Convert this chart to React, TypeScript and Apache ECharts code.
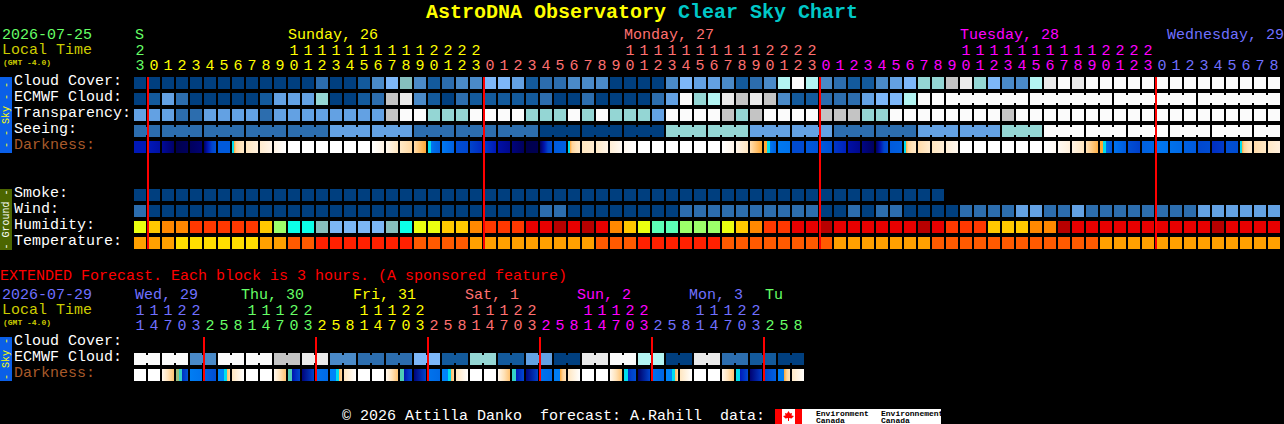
import React, { useEffect, useRef } from "react";
import * as echarts from "echarts";

const MONO = '"Liberation Mono", "DejaVu Sans Mono", monospace';

const hourOnes = "3012345678901234567890123012345678901234567890123012345678901234567890123012345678".split("");
const hourTens = "2          11111111112222          11111111112222          11111111112222         ".split("");
const extOnes = "147032581470325814703258147032581470325814703258".split("");
const extTens = "11122   11122   11122   11122   11122   11122   ".split("");

const SAT = "#66FF66", SUN = "#FFFF00", MON = "#FF7070", TUE = "#FF00FF", WED = "#7070FF";
const mainDays = [{ until: 1, color: SAT }, { until: 25, color: SUN }, { until: 49, color: MON }, { until: 73, color: TUE }, { until: 82, color: WED }];
const extDays = [{ until: 5, color: WED }, { until: 13, color: SAT }, { until: 21, color: SUN }, { until: 29, color: MON }, { until: 37, color: TUE }, { until: 45, color: WED }, { until: 48, color: SAT }];

const mainDayLabels = [
  { text: "S", x: 135, color: SAT }, { text: "Sunday, 26", x: 288, color: SUN }, { text: "Monday, 27", x: 624, color: MON },
  { text: "Tuesday, 28", x: 960, color: TUE }, { text: "Wednesday, 29", x: 1167, color: WED },
];
const extDayLabels = [
  { text: "Wed, 29", x: 135, color: WED }, { text: "Thu, 30", x: 241, color: SAT }, { text: "Fri, 31", x: 353, color: SUN },
  { text: "Sat, 1", x: 465, color: MON }, { text: "Sun, 2", x: 577, color: TUE }, { text: "Mon, 3", x: 689, color: WED }, { text: "Tu", x: 765, color: SAT },
];

const mainRows = ["Cloud Cover:", "ECMWF Cloud:", "Transparency:", "Seeing:", "Darkness:", "", " ", "Smoke:", "Wind:", "Humidity:", "Temperature:"];
const extRows = ["Cloud Cover:", "ECMWF Cloud:", "Darkness:"];
const midnightsMain = [1, 25, 49, 73];
const midnightsExt = [5, 13, 21, 29, 37, 45];

const cloudPalette = ["#003F7F", "#135A9C", "#2C6DAE", "#4A8AC8", "#63A1E3", "#7DB7F9", "#85BFBE", "#94D6D4", "#B3F4F2", "#C4C4C4", "#EAEAEA", "#FBFBFB"];
const humidityPalette = ["#7CB7F5", "#86BFBE", "#0CFFE8", "#5CFFB8", "#9CFF6A", "#EAFF10", "#FFC800", "#FF8800", "#FF3800", "#E80000", "#B80000"];
const temperaturePalette = ["#FFDE00", "#FFA000", "#FF5A00", "#FF2000"];
const darknessScale: [number, string][] = [
  [-4, "#FFFFFF"], [-3.5, "#FFF3E4"], [-3, "#FFE6C0"], [-2.5, "#FFD49A"], [-2, "#FFA834"], [-1, "#00DDEE"], [0, "#00B0FF"], [1, "#0090FF"],
  [2, "#0078F0"], [3, "#0060E0"], [4, "#0044CC"], [5, "#0018B8"], [5.5, "#000A98"], [6, "#000068"], [6.5, "#00004C"],
];

const cloudCover = [0,0,0,0,0,0,0,0,0,0,0,0,0,2,0,0,1,3,5,6,3,1,2,3,3,5,5,4,1,2,2,3,3,3,0,0,0,0,3,5,4,4,3,1,2,3,8,11,8,3,2,1,1,3,4,5,7,7,9,10,7,5,3,3,8,10,11,10,11,11,11,11,11,11,11,11,11,11,11,11,11,11];
const ecmwfCloud = [0,1,4,2,0,0,0,0,0,1,4,4,4,7,0,0,1,2,9,10,3,1,0,2,1,1,1,1,1,2,0,0,2,0,0,0,0,2,4,11,7,8,10,9,10,9,3,1,1,2,2,2,4,5,5,8,11,11,11,11,11,11,11,11,11,11,11,11,11,11,11,11,11,11,11,11,11,11,11,11,11,11];
const transparency = [4,4,4,2,2,4,4,4,4,2,4,4,4,4,4,4,4,4,9,11,11,7,7,7,11,11,11,11,7,7,7,11,7,11,7,7,7,4,11,11,11,11,9,7,9,11,11,11,11,9,9,9,7,7,11,11,11,11,11,11,11,11,9,11,11,11,11,11,11,11,11,11,11,11,11,11,11,11,11,11,11,11];
const seeing = [2,2,2,2,2,2,2,2,2,2,2,2,2,2,4,4,4,4,4,4,2,2,2,2,2,2,2,2,2,0,0,0,0,0,0,0,0,0,7,7,7,7,7,7,4,4,4,4,4,4,2,2,2,2,2,2,4,4,4,4,4,4,7,7,7,11,11,11,11,11,11,11,11,11,11,11,11,11,11,11,11,11];
const smoke = [0,0,0,0,0,0,0,0,0,0,0,0,0,0,0,0,0,0,0,0,0,0,0,0,0,0,0,0,0,0,0,0,0,0,0,0,0,0,0,0,0,0,0,0,0,0,0,0,0,0,0,0,0,0,0,0,0,0];
const wind = [2,0,0,0,0,0,0,0,0,0,0,0,0,0,0,0,0,0,0,0,0,0,0,0,0,0,0,0,0,2,2,0,0,0,0,0,0,0,0,2,2,2,2,2,2,2,2,2,2,0,0,2,0,2,2,0,0,0,0,2,2,2,2,4,4,2,2,4,2,2,2,2,2,2,2,2,4,4,4,4,4,4];
const humidity = [5,6,7,7,8,8,8,8,8,6,4,2,2,1,0,0,0,0,1,2,5,5,6,6,7,8,8,8,9,9,10,9,10,9,7,6,5,3,3,4,4,4,5,6,7,8,8,9,9,10,9,9,9,9,9,9,10,9,8,8,8,6,6,6,7,7,10,9,9,9,9,9,9,9,9,9,9,10,9,9,9,9];
const temperature = [1,1,1,0,0,0,0,0,0,1,1,2,2,3,3,3,3,3,3,3,2,2,2,2,1,1,1,1,1,1,1,1,1,2,2,2,3,3,3,3,3,3,2,2,2,2,2,2,2,2,1,1,1,1,1,1,1,2,2,2,2,2,2,2,2,2,2,2,2,1,1,1,1,1,1,1,1,1,1,1,1,1];
const extEcmwf = [11,11,11,11,3,3,11,11,11,11,9,9,10,10,3,3,2,2,2,2,5,5,1,1,7,7,1,1,4,4,0,0,10,10,11,11,8,8,0,0,10,10,2,2,1,1,0,0];

type Sky = (number | null)[];
const W: Sky = [-4, -4];
const dawnA: Sky = [-1, null, -2, -2.5, -2.7, -2.9, -3, -3.1];
const darkness: Sky[] = [
  [5,5],[5,5.3],[5.5,6],[6.5,6.2],[6.2,5.9],[6,5,4,3.5],[3.2,3.2],dawnA,[-3,-3.4],[-3.2,-3.6],[-3.5,-4],W,W,W,W,W,W,[-4,-3.5],[-3.7,-3],[-3.1,-2.6],[-2.7,-2],
  [-1,null,2,2.5,2.8,3],[2,3],[3.7,3.9],[4,4.6],[4.2,5],[5.3,5.6],[5.8,6.2],[6.5,6.4],[6.2,5.2,4,3.6],[3.2,3],dawnA,[-3,-3.2],[-3.1,-3.6],[-3.3,-3.8],[-3.7,-4],W,W,W,W,W,W,
  [-4,-3.6],[-3.6,-3],[-2.8,-2],[-2,null,-1,null,2,2.5,3],[2,2.2],[3.8,3.8],[3.3,3.5],[3.2,3.6],[4.3,4.8],[5.3,5.6],[5.7,6.2],[6.2,5.2,4,3.6],[3.2,3],dawnA,[-2.7,-3.2],[-3,-3.3],[-3.3,-3.7],
  W,W,W,W,W,W,[-4,-3.8],[-3.8,-3.4],[-3.5,-3],[-2.9,-2.1],[-2,null,-1,null,2.5,3,3.2],[2.2,3.2],[3.6,4.1],[3,2.8],[2,2.2],[2.3,2.6],[3,3.2],[3.9,3.7],[4.5,4.2],[3.6,3.7],dawnA,[-2.7,-3.1],[-3.1,-3.4],
];
const dawnB: Sky = [1.5, 1.5, null, -1, null, -2.2, -2.6];
const dawnC: Sky = [1.8, 1.8, null, -2, -2.5, -2.9];
const dusk: Sky = [-3.7, -2.9, -2.3];
const extDarkness: Sky[] = [
  W,W,dusk,[-1.6,null,-1.2,null,4.5,4,3.4],[1.8,2.2],[3,3.6],dawnB,[-3,-4],
  W,W,dusk,[-1.3,null,5.2,4.4,3.8],[5.8,4],[2.2,2.6],dawnB,[-3,-4],
  W,W,dusk,[-1.3,null,5.2,4.4,3.8],[5.8,4],[2.2,2.6],dawnB,[-3,-4],
  W,W,dusk,[-1.2,null,5,4.4,3.8],[5.8,4],[2.2,2.6],dawnC,[-3,-4],
  W,W,dusk,[-1,null,4.5,4,3.6],[6,4],[2.2,2.8],dawnB,[-3,-4],
  W,W,dusk,[-1,null,5,4.4,3.8],[5.9,4.2],[4,3],dawnC,[-3.1,-3.9],
];

const hex = (c: string) => [1, 3, 5].map((p) => parseInt(c.slice(p, p + 2), 16));
function skyColor(v: number) {
  const s = darknessScale;
  if (v <= s[0][0]) return s[0][1];
  for (let k = 1; k < s.length; k++) {
    if (v <= s[k][0]) {
      const t = (v - s[k - 1][0]) / (s[k][0] - s[k - 1][0]);
      const a = hex(s[k - 1][1]), b = hex(s[k][1]);
      return `rgb(${a.map((x, j) => Math.round(x + (b[j] - x) * t)).join(",")})`;
    }
  }
  return s[s.length - 1][1];
}
function skyFill(cell: Sky) {
  const vals = cell.filter((v) => v !== null) as number[];
  const stops: { offset: number; color: string }[] = [];
  let k = 0;
  cell.forEach((v, idx) => {
    if (v === null) return;
    const off = k / (vals.length - 1);
    stops.push({ offset: off, color: skyColor(v) });
    if (cell[idx + 1] === null) stops.push({ offset: (k + 1) / (vals.length - 1), color: skyColor(v) });
    k++;
  });
  return new echarts.graphic.LinearGradient(0, 0, 1, 0, stops);
}

function cellSeries(name: string, n: number, row: number, xAxisIndex: number, yAxisIndex: number, fill: (i: number) => any, joined: (i: number) => boolean) {
  return {
    type: "custom", name, coordinateSystem: "cartesian2d", xAxisIndex, yAxisIndex, silent: true, clip: false,
    data: Array.from({ length: n }, (_, i) => [i, row]),
    encode: { x: 0, y: 1 },
    renderItem: (_: any, api: any) => {
      const i = api.value(0);
      const [cx, cy] = api.coord([i, row]);
      const [bw, bh] = api.size([1, 1]);
      const w = bw - 2, h = bh - 4;
      const children: any[] = [{ type: "rect", shape: { x: cx - w / 2, y: cy - h / 2, width: w, height: h }, style: { fill: fill(i) } }];
      if (joined(i) && i < n - 1) {
        children.push({ type: "rect", shape: { x: cx + w / 2, y: cy - h / 2 + 2, width: 2, height: h - 4 }, style: { fill: fill(i) } });
      }
      return { type: "group", children };
    },
  };
}
const lineSeries = (data: number[], xAxisIndex: number, yAxisIndex: number, lastRow: number) => ({
  type: "custom", name: "midnight", coordinateSystem: "cartesian2d", xAxisIndex, yAxisIndex, silent: true, clip: false, z: 5,
  data: data.map((d) => [d, 0]), encode: { x: 0, y: 1 },
  renderItem: (_: any, api: any) => {
    const [cx, top] = api.coord([api.value(0), 0]);
    const [, bottom] = api.coord([api.value(0), lastRow]);
    const [bw] = api.size([1, 1]);
    return { type: "rect", shape: { x: cx - bw / 2, y: top - 6, width: 2, height: bottom - top + 12 }, style: { fill: "#FF0000" } };
  },
});

const pick = (p: string[], v: number[]) => (i: number) => p[v[i]];
const never = () => false;

const dayColor = (days: { until: number; color: string }[], i: number) => days.find((d) => i < d.until)!.color;
const topAxis = (grid: number, labels: string[], days: any[], offset: number) => ({
  gridIndex: grid, type: "category", position: "top", offset,
  data: labels.map((value, i) => ({ value, textStyle: { color: dayColor(days, i) } })),
  axisLine: { show: false }, axisTick: { show: false }, splitLine: { show: false },
  axisLabel: { interval: 0, margin: 1, fontFamily: MONO, fontSize: 15 },
});
const rowLabelStyle = { fontFamily: MONO, fontSize: 15, padding: [0, 0, 4, 0] };
const leftAxis = (grid: number, rows: string[]) => ({
  gridIndex: grid, type: "category", inverse: true,
  data: rows.map((value) => ({ value, textStyle: { align: "left" } })),
  axisLine: { show: false }, axisTick: { show: false }, splitLine: { show: false },
  axisLabel: {
    interval: 0, margin: 119, fontFamily: MONO, fontSize: 15,
    formatter: (value: string) => (value.trim() ? `{${value === "Darkness:" ? "dim" : "plain"}|${value}}` : ""),
    rich: { plain: { ...rowLabelStyle, color: "#FFFFFF" }, dim: { ...rowLabelStyle, color: "#A85A2A" } },
  },
});

const t = (text: string, x: number, y: number, fill: string, font = `15px ${MONO}`, extra: any = {}) => ({
  type: "text", x, y, silent: true, ...extra, style: { text, fill, font, align: extra.rotation ? "center" : "left", verticalAlign: "middle" },
});
const sideBar = (y: number, h: number, fill: string, text: string, color: string) => [
  { type: "rect", shape: { x: 0, y, width: 12, height: h }, style: { fill }, silent: true },
  t(text, 6, y + h / 2, color, `10px ${MONO}`, { rotation: Math.PI / 2 }),
];

export default function App() {
  const ref = useRef<HTMLDivElement>(null);
  useEffect(() => {
    document.body.style.margin = "0";
    const chart = echarts.init(ref.current!, undefined, { renderer: "svg" });
    const graphics: any[] = [
      t("2026-07-25", 2, 35, SAT), t("Local Time", 2, 50, "#CCCC00"), t("(GMT -4.0)", 3, 62, "#CCCC00", `bold 8px ${MONO}`),
      t("EXTENDED Forecast. Each block is 3 hours. (A sponsored feature)", 0, 276, "#FF0000"),
      t("2026-07-29", 2, 295, WED), t("Local Time", 2, 310, "#CCCC00"), t("(GMT -4.0)", 3, 322, "#CCCC00", `bold 8px ${MONO}`),
      ...mainDayLabels.map((d) => t(d.text, d.x, 35, d.color)),
      ...extDayLabels.map((d) => t(d.text, d.x, 295, d.color)),
      ...sideBar(77, 76, "#0A5FE8", "- - Sky - -", "#FFFF00"),
      ...sideBar(189, 61, "#4C6600", "- Ground -", "#FFFFFF"),
      ...sideBar(337, 44, "#0A5FE8", "- Sky -", "#FFFF00"),
      t("\u00A9 2026 Attilla Danko  forecast: A.Rahill  data:", 342, 416, "#FFFFFF"),
      { type: "rect", shape: { x: 775, y: 409, width: 166, height: 15 }, style: { fill: "#FFFFFF" }, silent: true },
      { type: "rect", shape: { x: 775, y: 409, width: 7, height: 15 }, style: { fill: "#FF0000" }, silent: true },
      { type: "rect", shape: { x: 795, y: 409, width: 7, height: 15 }, style: { fill: "#FF0000" }, silent: true },
      { type: "polygon", silent: true, style: { fill: "#FF0000" }, shape: { points: [[788.5,411],[790,413.5],[792,413],[791.5,415.5],[794,416],[791.5,418.5],[789,418],[789,421],[788,421],[788,418],[785.5,418.5],[783,416],[785.5,415.5],[785,413],[787,413.5]] } },
      t("Environment", 816, 413, "#000000", `bold 8px ${MONO}`), t("Canada", 816, 420, "#000000", `bold 8px ${MONO}`),
      t("Environnement", 881, 413, "#000000", `bold 8px ${MONO}`), t("Canada", 881, 420, "#000000", `bold 8px ${MONO}`),
    ];
    chart.setOption({
      animation: false,
      backgroundColor: "#000000",
      title: {
        left: 426, top: 2, padding: 0,
        text: "{a|AstroDNA Observatory }{b|Clear Sky Chart}",
        textStyle: { rich: {
          a: { color: "#FFFF00", fontFamily: MONO, fontWeight: "bold", fontSize: 20 },
          b: { color: "#00C8C8", fontFamily: MONO, fontWeight: "bold", fontSize: 20 },
        } },
      },
      grid: [
        { left: 133, top: 75, width: 1148, height: 176, outerBoundsMode: "none" },
        { left: 133, top: 335, width: 672, height: 48, outerBoundsMode: "none" },
      ],
      xAxis: [
        topAxis(0, hourOnes, mainDays, 0),
        topAxis(0, hourTens, mainDays, 15),
        topAxis(1, extOnes, extDays, 0),
        topAxis(1, extTens, extDays, 15),
      ],
      yAxis: [leftAxis(0, mainRows), leftAxis(1, extRows)],
      series: [
        cellSeries("Cloud Cover", cloudCover.length, 0, 0, 0, pick(cloudPalette, cloudCover), never),
        cellSeries("ECMWF Cloud", ecmwfCloud.length, 1, 0, 0, pick(cloudPalette, ecmwfCloud), (i) => i >= 58 && (i - 57) % 6 !== 0),
        cellSeries("Transparency", transparency.length, 2, 0, 0, pick(cloudPalette, transparency), never),
        cellSeries("Seeing", seeing.length, 3, 0, 0, pick(cloudPalette, seeing), (i) => (i + 2) % 3 !== 0),
        cellSeries("Darkness", darkness.length, 4, 0, 0, (i) => skyFill(darkness[i]), never),
        cellSeries("Smoke", smoke.length, 7, 0, 0, pick(cloudPalette, smoke), never),
        cellSeries("Wind", wind.length, 8, 0, 0, pick(cloudPalette, wind), never),
        cellSeries("Humidity", humidity.length, 9, 0, 0, pick(humidityPalette, humidity), never),
        cellSeries("Temperature", temperature.length, 10, 0, 0, pick(temperaturePalette, temperature), never),
        lineSeries(midnightsMain, 0, 0, 10),
        cellSeries("ECMWF Cloud (extended)", extEcmwf.length, 1, 2, 1, pick(cloudPalette, extEcmwf), (i) => i % 2 === 0),
        cellSeries("Darkness (extended)", extDarkness.length, 2, 2, 1, (i) => skyFill(extDarkness[i]), never),
        lineSeries(midnightsExt, 2, 1, 2),
      ],
      graphic: { elements: graphics },
    });
    return () => chart.dispose();
  }, []);
  return <div ref={ref} style={{ position: "absolute", left: 0, top: 0, width: 1284, height: 424 }} />;
}
